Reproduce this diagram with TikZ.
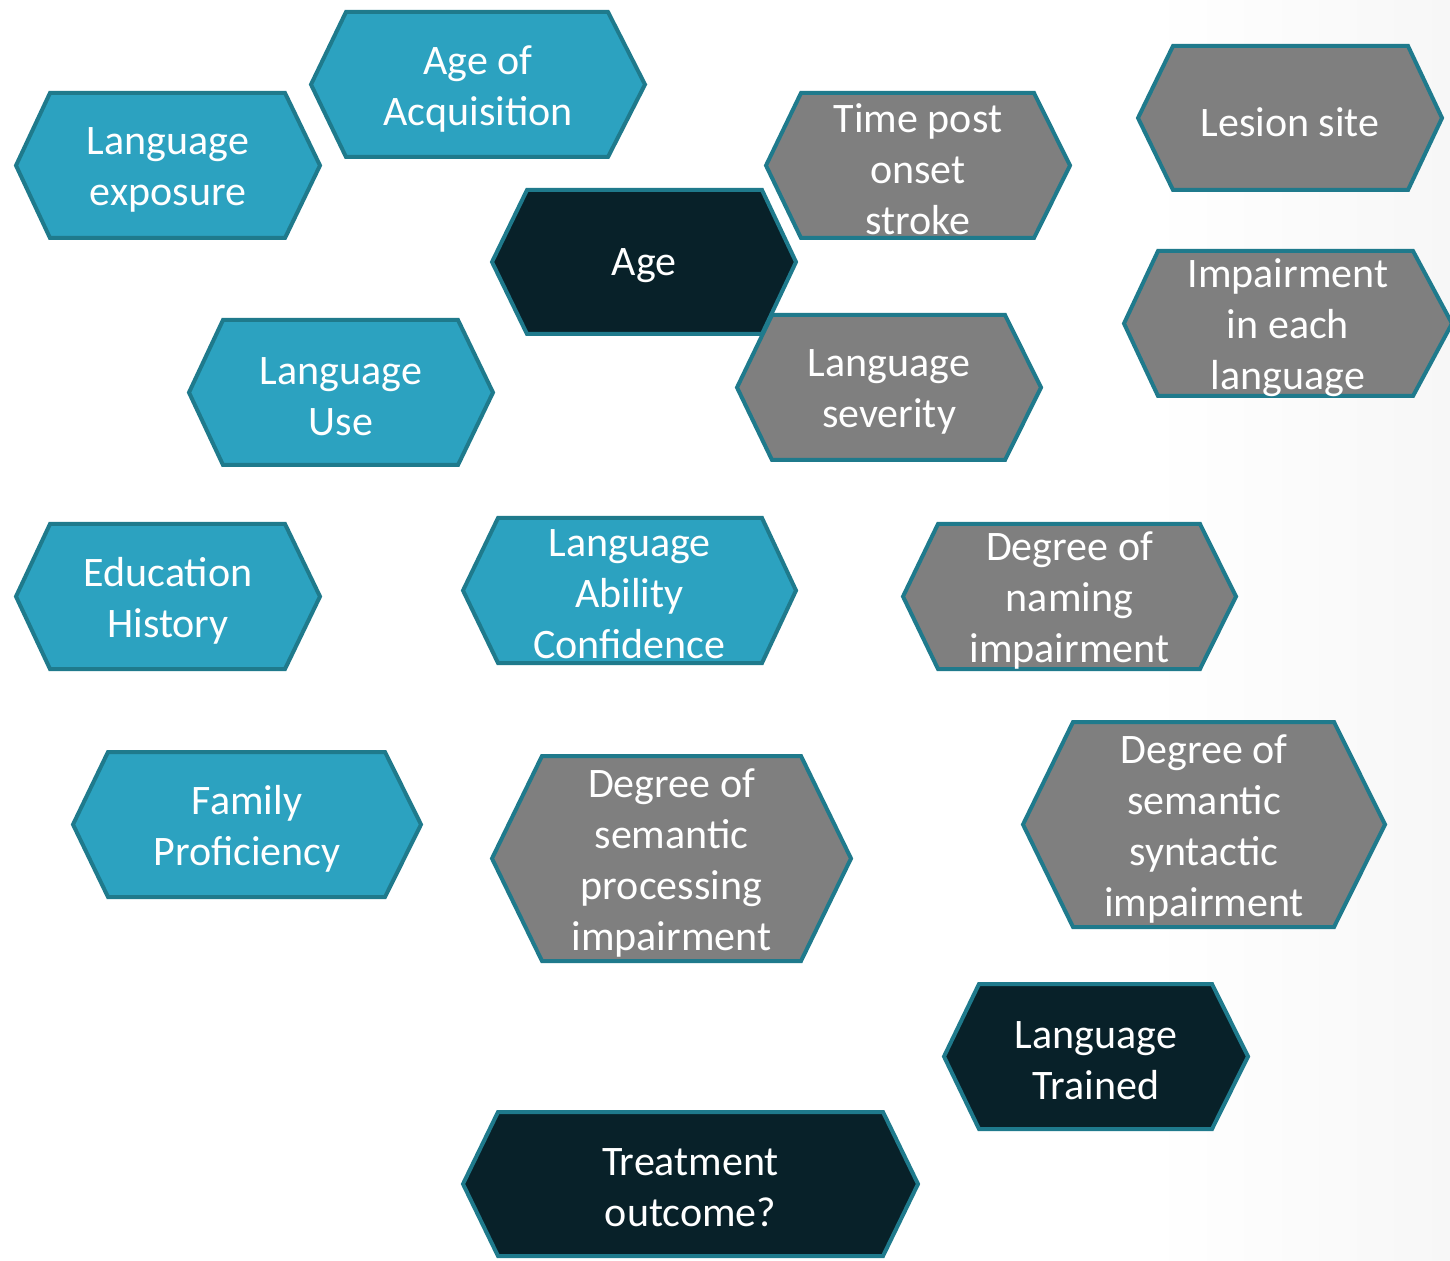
\documentclass[tikz,border=0pt]{standalone}
\usepackage{fontspec}
\setmainfont{Carlito}
\definecolor{hexblue}{RGB}{44,162,192}
\definecolor{hexgrey}{RGB}{127,127,127}
\definecolor{hexdark}{RGB}{8,33,41}
\definecolor{hexedge}{RGB}{31,122,140}
\definecolor{bgshade}{RGB}{247,247,247}
\tikzset{
  hexbase/.style={draw=hexedge, line width=2pt, line join=miter},
  hexb/.style={hexbase, fill=hexblue},
  hexg/.style={hexbase, fill=hexgrey},
  hexd/.style={hexbase, fill=hexdark},
  hextext/.style={text=white, align=center, inner sep=0pt, font=\fontsize{21}{25.5}\selectfont},
}
% #1 style, #2 left point x, #3 inner left x, #4 inner right x, #5 right point x, #6 top y, #7 bottom y, #8 name, #9 text
\newcommand\hexa[9]{%
  \path[#1] (#2,{(#6+#7)/2}) -- (#3,#6) -- (#4,#6) -- (#5,{(#6+#7)/2}) -- (#4,#7) -- (#3,#7) -- cycle;
  \node[hextext] (#8) at ({(#2+#5)/2},{(#6+#7)/2+4}) {#9};
}
\begin{document}
\begin{tikzpicture}[x=0.5pt,y=-0.5pt]
\useasboundingbox (0,0) rectangle (1450,1261);
\clip (0,0) rectangle (1450,1261);
\fill[white] (0,0) rectangle (1450,1261);
\shade[left color=white, right color=bgshade] (1150,0) rectangle (1450,1261);
\hexa{hexb}{16}{50}{285}{320}{93}{238}{exposure}{Language\\exposure}
\hexa{hexb}{311}{346}{608}{645}{12}{157}{aoa}{Age of\\Acquisition}
\hexa{hexd}{492}{527}{762}{796}{190}{334}{age}{Age}
\hexa{hexg}{766}{801}{1034}{1070}{93}{238}{tpo}{Time post\\onset\\stroke}
\hexa{hexg}{1138}{1173}{1408}{1442}{46}{190}{lesion}{Lesion site}
\hexa{hexg}{1124}{1158}{1413}{1452}{251}{396}{impair}{Impairment\\in each\\language}
\hexa{hexb}{189}{223}{458}{493}{320}{465}{use}{Language\\Use}
\hexa{hexg}{737}{772}{1005}{1041}{315}{460}{severity}{Language\\severity}
\hexa{hexb}{16}{50}{285}{320}{524}{669}{edu}{Education\\History}
\hexa{hexb}{463}{498}{762}{796}{518}{663}{conf}{Language\\Ability\\Confidence}
\hexa{hexg}{903}{938}{1200}{1236}{524}{669}{naming}{Degree of\\naming\\impairment}
\hexa{hexb}{73}{108}{385}{421}{752}{897}{family}{Family\\Proficiency}
\hexa{hexg}{492}{542}{801}{851}{756}{961}{semproc}{Degree of\\semantic\\processing\\impairment}
\hexa{hexg}{1023}{1073}{1334}{1385}{722}{927}{semsyn}{Degree of\\semantic\\syntactic\\impairment}
\hexa{hexd}{944}{979}{1212}{1248}{984}{1129}{trained}{Language\\Trained}
\hexa{hexd}{463}{498}{883}{918}{1112}{1256}{outcome}{Treatment\\outcome?}
\end{tikzpicture}
\end{document}
